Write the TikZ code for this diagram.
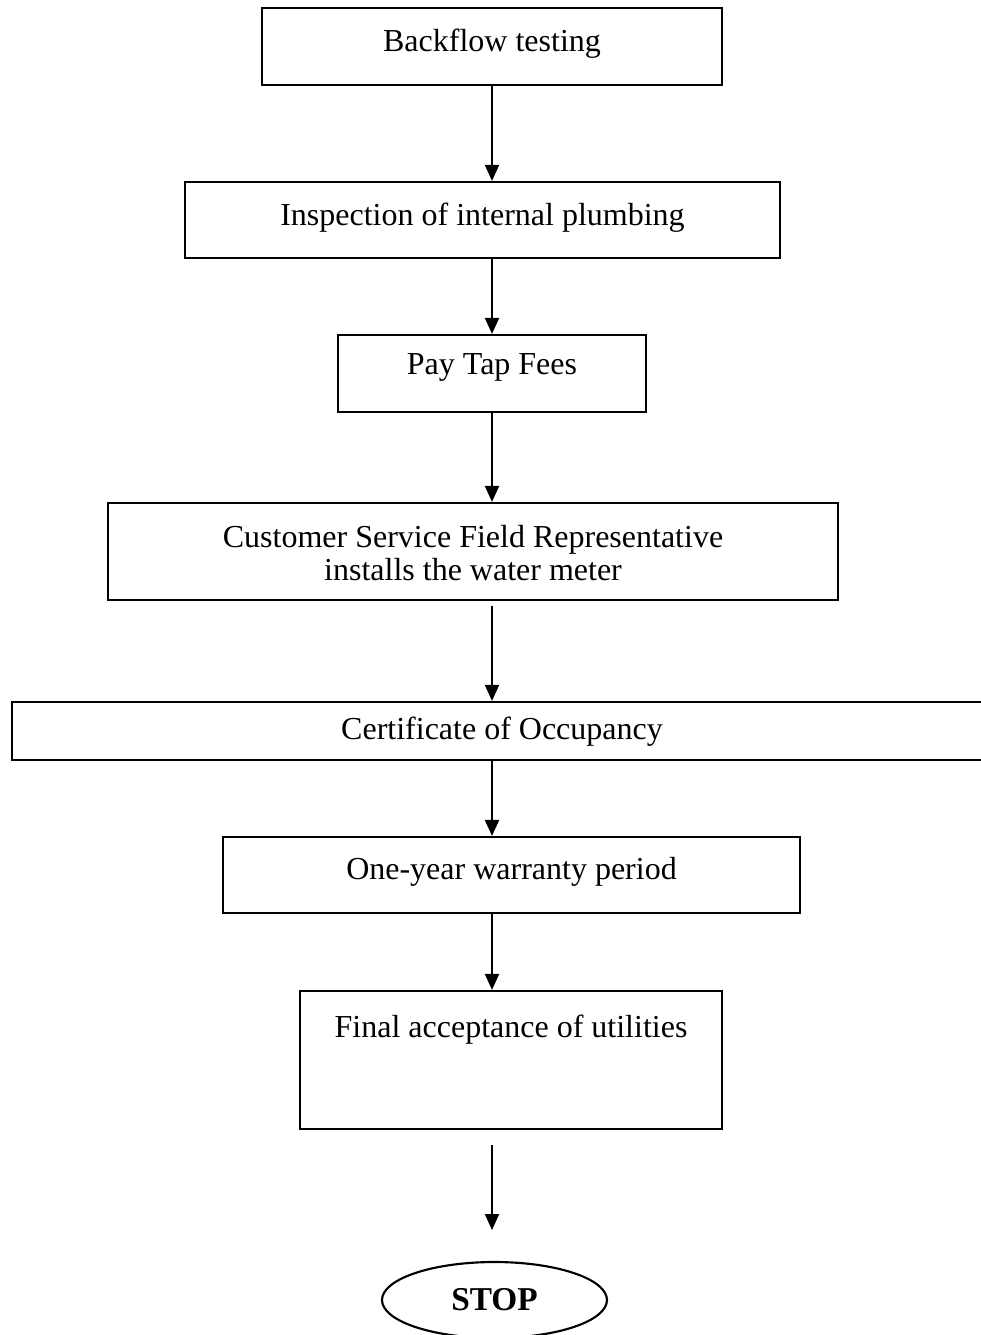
\documentclass[tikz,border=0pt]{standalone}
\usepackage{fontspec}
\setmainfont{Liberation Serif}
\usetikzlibrary{arrows.meta,shapes.geometric}
\begin{document}
\begin{tikzpicture}[x=0.75pt,y=-0.75pt,
  box/.style={draw, line width=1.6pt, rectangle, inner sep=0pt, text height=15pt,
    font=\fontsize{24pt}{24.75pt}\selectfont},
  arr/.style={line width=1.6pt, -{Triangle[length=12pt,width=10.5pt]}}]
\useasboundingbox (0,0) rectangle (981,1335);
\clip (0,0) rectangle (981,1335);
\coordinate (ax) at (492,0);
\node[box, minimum width=345pt, minimum height=57.75pt, text depth=8pt] (b1) at (492,46.5) {Backflow testing};
\node[box, minimum width=446.25pt, minimum height=57pt, text depth=7pt] (b2) at (482.5,220) {Inspection of internal plumbing};
\node[box, minimum width=231pt, minimum height=57.75pt, text depth=14pt] (b3) at (492,373.5) {Pay Tap Fees};
\node[box, minimum width=547.5pt, minimum height=72.75pt, text depth=21pt] (b4) at (473,551.5) {\begin{tabular}[t]{@{}c@{}}Customer Service Field Representative\\ installs the water meter\end{tabular}};
\node[box, minimum width=735pt, minimum height=43.5pt, text depth=2.5pt] (b5) at (502,731) {Certificate of Occupancy};
\node[box, minimum width=432.75pt, minimum height=57pt, text depth=8.5pt] (b6) at (511.5,875) {One-year warranty period};
\node[box, minimum width=316.5pt, minimum height=103.5pt, text depth=49pt] (b7) at (511,1060) {Final acceptance of utilities};
\node[draw, line width=1.6pt, ellipse, inner sep=0pt, minimum width=168.75pt, minimum height=57pt,
  text height=15pt, text depth=0pt, font=\fontsize{25pt}{28pt}\selectfont\bfseries] (stop) at (494.5,1300) {STOP};
\coordinate (a7s) at (492,1145);
\coordinate (a7e) at (492,1230);
\draw[arr] (b1.south -| ax) -- (b2.north -| ax);
\draw[arr] (b2.south -| ax) -- (b3.north -| ax);
\draw[arr] (b3.south -| ax) -- (b4.north -| ax);
\draw[arr] ([yshift=-4pt]b4.south -| ax) -- (b5.north -| ax);
\draw[arr] (b5.south -| ax) -- (b6.north -| ax);
\draw[arr] (b6.south -| ax) -- (b7.north -| ax);
\draw[arr] (a7s) -- (a7e);
\end{tikzpicture}
\end{document}
